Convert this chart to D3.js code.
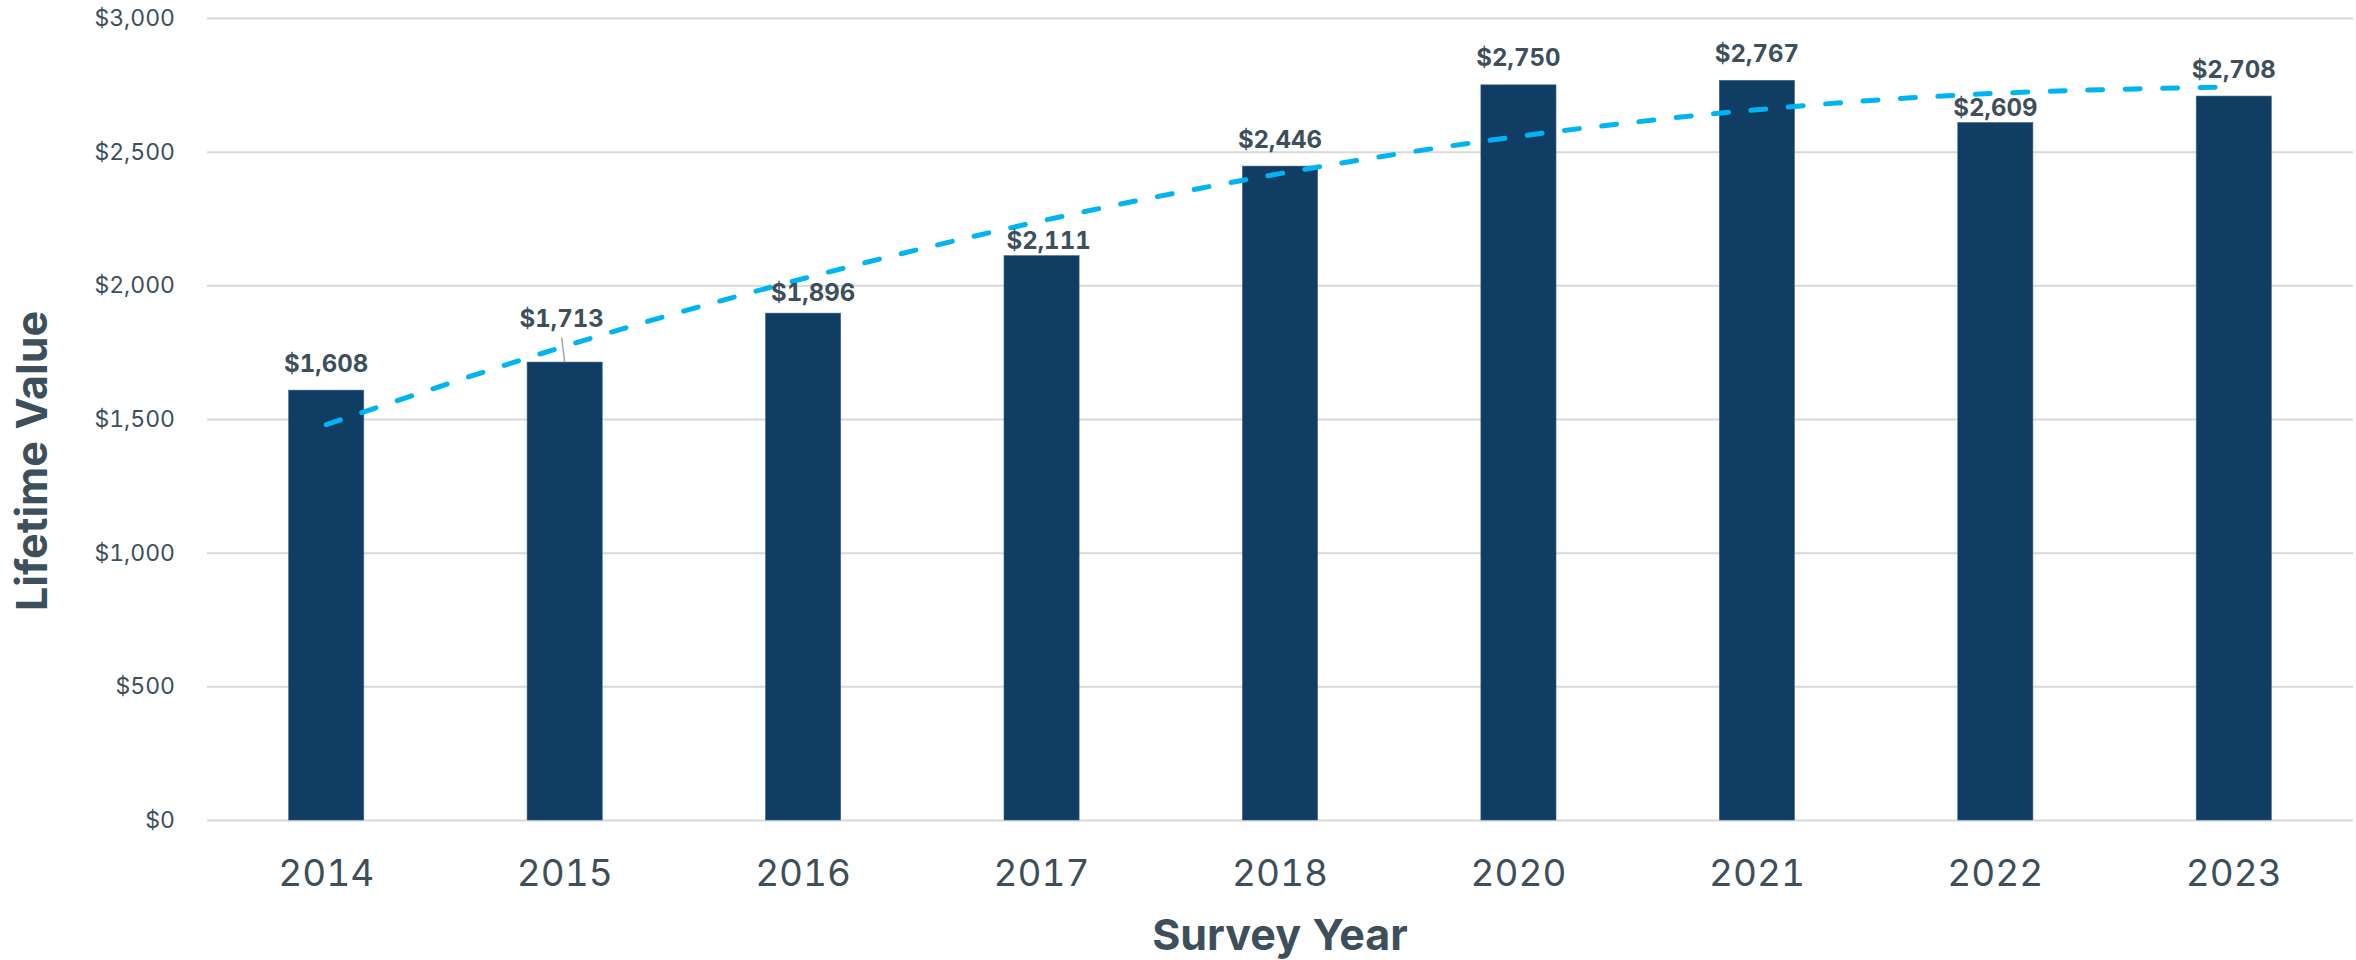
<!DOCTYPE html>
<html>
<head>
<meta charset="utf-8">
<title>Lifetime Value by Survey Year</title>
<script src="https://cdn.jsdelivr.net/npm/d3@7/dist/d3.min.js"></script>
<style>
  html, body { margin: 0; padding: 0; background: #ffffff; }
  svg { display: block; font-family: Inter, "Noto Sans", Roboto, sans-serif; }
  svg text { font-variant-numeric: tabular-nums; font-feature-settings: "tnum" 1; }
</style>
</head>
<body>
<svg id="chart" width="2356" height="960"></svg>
<script>
// Survey years and average lifetime value (USD)
const years = ["2014", "2015", "2016", "2017", "2018", "2020", "2021", "2022", "2023"];
const lifetimeValue = [1608, 1713, 1896, 2111, 2446, 2750, 2767, 2609, 2708];
// Polynomial (order 2) trend, value at each survey year
const trendValue = [1479, 1772, 2025, 2241, 2418, 2557, 2657, 2718, 2742];
// Y axis ticks
const yTicks = [0, 500, 1000, 1500, 2000, 2500, 3000];

const W = 2356, H = 960;
const plot = { left: 207, right: 2353, top: 18, bottom: 820 };

const textColor = "#3d4f5b";
const barColor = "#0f3d64";
const trendColor = "#00b4f2";
const gridColor = "#d9d9d9";

const svg = d3.select("#chart");
svg.append("rect").attr("width", W).attr("height", H).attr("fill", "#ffffff");

const x = d3.scaleBand()
  .domain(years)
  .range([plot.left, plot.right])
  .paddingInner(0.685)
  .paddingOuter(0.3425);

const y = d3.scaleLinear()
  .domain([0, 3000])
  .range([plot.bottom, plot.top]);

const money = v => "$" + d3.format(",")(v);

// Horizontal gridlines with dollar tick labels
const yAxis = d3.axisLeft(y)
  .tickValues(yTicks)
  .tickSize(-(plot.right - plot.left))
  .tickPadding(32)
  .tickFormat(money);

const gy = svg.append("g")
  .attr("transform", `translate(${plot.left},0)`)
  .call(yAxis);
gy.select(".domain").remove();
gy.selectAll(".tick line").attr("stroke", gridColor).attr("stroke-width", 2);
gy.selectAll(".tick text")
  .attr("fill", textColor)
  .attr("font-size", 23)
  .attr("font-family", "Inter, 'Noto Sans', sans-serif");

// Category labels along the bottom
const xAxis = d3.axisBottom(x).tickSize(0).tickPadding(40);
const gx = svg.append("g")
  .attr("transform", `translate(0,${plot.bottom})`)
  .call(xAxis);
gx.select(".domain").remove();
gx.selectAll(".tick text")
  .attr("fill", textColor)
  .attr("font-size", 37)
  .attr("font-family", "Inter, 'Noto Sans', sans-serif");

// Bars
const rows = years.map((yr, i) => ({ year: yr, value: lifetimeValue[i], trend: trendValue[i] }));

svg.append("g")
  .selectAll("rect")
  .data(rows)
  .join("rect")
  .attr("x", d => x(d.year))
  .attr("y", d => y(d.value))
  .attr("width", x.bandwidth())
  .attr("height", d => y(0) - y(d.value))
  .attr("fill", barColor)
  .attr("stroke", "#3f6384")
  .attr("stroke-width", 0.6);

// Dashed trendline through the category centres
const trendLine = d3.line()
  .x(d => x(d.year) + x.bandwidth() / 2)
  .y(d => y(d.trend))
  .curve(d3.curveNatural);

svg.append("path")
  .datum(rows)
  .attr("d", trendLine)
  .attr("fill", "none")
  .attr("stroke", trendColor)
  .attr("stroke-width", 5)
  .attr("stroke-linecap", "round")
  .attr("stroke-dasharray", "15,22.5");

// Value labels; a few are nudged off the trendline
const labelNudge = {
  "2015": { dx: -3, dy: -17, leader: true },
  "2016": { dx: 10, dy: 6 },
  "2017": { dx: 7, dy: 12 },
  "2022": { dx: 0, dy: 12 }
};

const labels = svg.append("g");
rows.forEach(d => {
  const n = labelNudge[d.year] || { dx: 0, dy: 0 };
  const cx = x(d.year) + x.bandwidth() / 2;
  const lx = cx + n.dx;
  const ly = y(d.value) - 18.5 + n.dy;
  if (n.leader) {
    labels.append("line")
      .attr("x1", lx).attr("y1", ly + 11)
      .attr("x2", cx).attr("y2", y(d.value))
      .attr("stroke", "#a6a6a6")
      .attr("stroke-width", 1.5);
  }
  labels.append("text")
    .attr("x", lx)
    .attr("y", ly)
    .attr("text-anchor", "middle")
    .attr("fill", textColor)
    .attr("font-size", 24)
    .attr("font-weight", 700)
    .text(money(d.value));
});

// Axis titles
svg.append("text")
  .attr("x", (plot.left + plot.right) / 2)
  .attr("y", 950)
  .attr("text-anchor", "middle")
  .attr("fill", textColor)
  .attr("font-size", 43)
  .attr("font-weight", 700)
  .text("Survey Year");

svg.append("text")
  .attr("transform", "translate(47,461) rotate(-90)")
  .attr("text-anchor", "middle")
  .attr("fill", textColor)
  .attr("font-size", 43)
  .attr("font-weight", 700)
  .text("Lifetime Value");
</script>
</body>
</html>
